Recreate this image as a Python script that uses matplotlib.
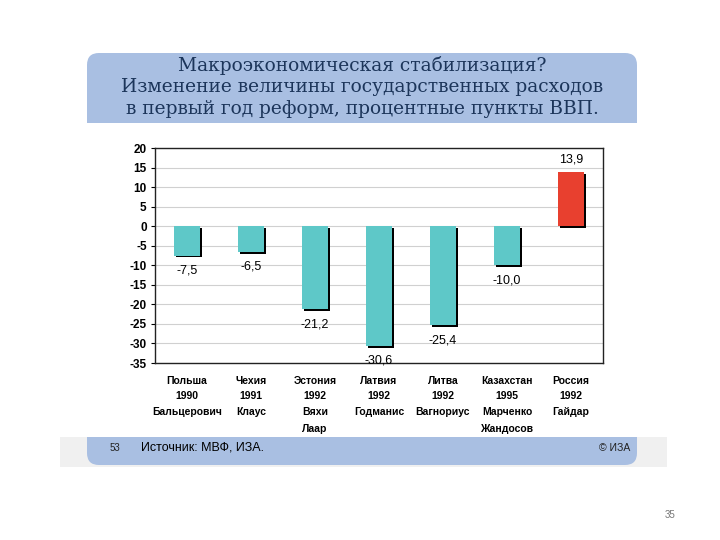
import matplotlib

matplotlib.use("Agg")
import matplotlib.pyplot as plt
from matplotlib.patches import FancyBboxPatch, Rectangle

countries = ["Польша", "Чехия", "Эстония", "Латвия", "Литва", "Казахстан", "Россия"]
years = ["1990", "1991", "1992", "1992", "1992", "1995", "1992"]
reformers = ["Бальцерович", "Клаус", "Вяхи\nЛаар", "Годманис", "Вагнориус", "Марченко\nЖандосов", "Гайдар"]
values = [-7.5, -6.5, -21.2, -30.6, -25.4, -10.0, 13.9]
value_labels = ["-7,5", "-6,5", "-21,2", "-30,6", "-25,4", "-10,0", "13,9"]
yticks = list(range(-35, 25, 5))

TEAL = "#5ec8c8"
RED = "#e8402f"
BAND = "#a9bfe2"
NAVY = "#1c355a"
SANS = ["Liberation Sans", "DejaVu Sans"]

fig = plt.figure(figsize=(7.2, 5.4), dpi=100)

# background in pixel coordinates
bg = fig.add_axes([0, 0, 1, 1])
bg.set_xlim(0, 720)
bg.set_ylim(540, 0)
bg.axis("off")

bg.add_patch(Rectangle((60, 437), 607, 30, facecolor="#f0f0f0", edgecolor="none"))
bg.add_patch(FancyBboxPatch((87, 53), 550, 90, boxstyle="round,pad=0,rounding_size=12",
                            facecolor=BAND, edgecolor="none"))
bg.add_patch(Rectangle((87, 123), 550, 25, facecolor="white", edgecolor="none"))
bg.add_patch(FancyBboxPatch((87, 420), 550, 45, boxstyle="round,pad=0,rounding_size=12",
                            facecolor=BAND, edgecolor="none"))
bg.add_patch(Rectangle((87, 420), 550, 17, facecolor="white", edgecolor="none"))

title = ("Макроэкономическая стабилизация?\n"
         "Изменение величины государственных расходов\n"
         "в первый год реформ, процентные пункты ВВП.")
bg.text(362, 87, title, ha="center", va="center", fontsize=13.4, color=NAVY,
        family=["DejaVu Serif"], linespacing=1.22)

bg.text(115, 448, "53", ha="center", va="center", fontsize=7, color="#222222", family=SANS)
bg.text(141, 448, "Источник: МВФ, ИЗА.", ha="left", va="center", fontsize=9, color="black", family=SANS)
bg.text(630, 448, "© ИЗА", ha="right", va="center", fontsize=7.5, color="#222222", family=SANS)
bg.text(670, 515, "35", ha="center", va="center", fontsize=7, color="#777777", family=SANS)

# category labels under the chart
for i, (c, y, r) in enumerate(zip(countries, years, reformers)):
    px = 187 + 64 * i
    bg.text(px, 381, c, ha="center", va="center", fontsize=7.5, fontweight="bold", family=SANS)
    bg.text(px, 396, y, ha="center", va="center", fontsize=7.5, fontweight="bold", family=SANS)
    bg.text(px, 407, r, ha="center", va="top", fontsize=7.5, fontweight="bold", family=SANS,
            linespacing=1.85)

# chart
ax = fig.add_axes([155 / 720, (540 - 363) / 540, 448 / 720, 215 / 540])
ax.set_xlim(-0.5, len(values) - 0.5)
ax.set_ylim(-35, 20)
ax.set_yticks(yticks)
ax.set_yticklabels([str(t) for t in yticks], fontsize=8.5, fontweight="bold", family=SANS)
ax.set_xticks([])
ax.tick_params(axis="y", length=3, width=0.8, pad=3)
ax.grid(axis="y", color="#d0d0d0", linewidth=0.8)
ax.set_axisbelow(True)
for s in ax.spines.values():
    s.set_linewidth(1.0)
    s.set_color("#222222")

xs = list(range(len(values)))
colors = [RED if v > 0 else TEAL for v in values]
w = 0.4
ax.bar([x + 0.035 for x in xs], values, width=w, bottom=-0.5, color="black", zorder=2)
ax.bar(xs, values, width=w, color=colors, zorder=3)

for x, v, lab in zip(xs, values, value_labels):
    if v < 0:
        ax.text(x, v - 2.3, lab, ha="center", va="top", fontsize=9, family=SANS, zorder=4)
    else:
        ax.text(x, v + 1.5, lab, ha="center", va="bottom", fontsize=9, family=SANS, zorder=4)

fig.savefig("out.png", dpi=100)
